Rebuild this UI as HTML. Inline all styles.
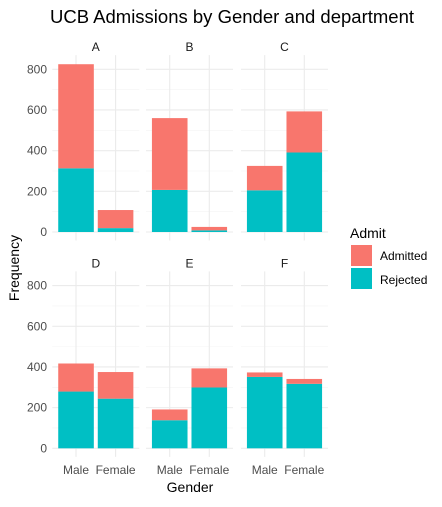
<!DOCTYPE html>
<html><head><meta charset="utf-8"><style>
body{margin:0;background:#fff;font-family:"Liberation Sans",sans-serif}
svg text{font-family:"Liberation Sans",sans-serif}
</style></head><body>
<svg id="chart" width="442" height="502" xmlns="http://www.w3.org/2000/svg">
<text x="232" y="23" font-size="18.5" text-anchor="middle" fill="#000">UCB Admissions by Gender and department</text>
<text transform="translate(19,268) rotate(-90)" font-size="14" text-anchor="middle" fill="#000">Frequency</text>
<text x="190" y="492" font-size="14" text-anchor="middle" fill="#000">Gender</text>
<g>
<text x="350" y="238" font-size="14" fill="#000">Admit</text>
<rect x="351" y="245" width="21" height="21" fill="#F8766D"/>
<text x="380" y="260" font-size="12" fill="#000">Admitted</text>
<rect x="351" y="268" width="21" height="21" fill="#00BFC4"/>
<text x="380" y="284" font-size="12" fill="#000">Rejected</text>
</g>
<g id="panels"></g>
</svg>
<script>
const depts = ["A","B","C","D","E","F"];
const genders = ["Male","Female"];
const rejected = [[313,19],[207,8],[205,391],[279,244],[138,299],[351,317]];
const admitted = [[512,89],[353,17],[120,202],[138,131],[53,94],[22,24]];
const yTicks = [0,200,400,600,800];
const yMinor = [100,300,500,700];

const NS="http://www.w3.org/2000/svg";
const g=document.getElementById("panels");
const panelX=[52.3,146,241];
const panelW=87;
const rowZero=[232,448.3];
const pxPerUnit=162.7/800;
function mk(tag,attrs,parent){const e=document.createElementNS(NS,tag);for(const k in attrs)e.setAttribute(k,attrs[k]);(parent||g).appendChild(e);return e;}
function yScale(v,row){return rowZero[row]-v*pxPerUnit;}
function xScale(i,col){return panelX[col]+panelW*(0.6+i)/2.2;}
depts.forEach((d,k)=>{
  const col=k%3,row=Math.floor(k/3);
  const top=yScale(870,row),bot=yScale(-42,row);
  const pg=mk("g",{});
  
  
  yMinor.forEach(v=>{const y=yScale(v,row);const l=mk("line",{x1:panelX[col],x2:panelX[col]+panelW,y1:y,y2:y,stroke:"#f4f4f4","stroke-width":0.6},pg);
    
    });
  yTicks.forEach(v=>{const y=yScale(v,row);const l=mk("line",{x1:panelX[col],x2:panelX[col]+panelW,y1:y,y2:y,stroke:"#ebebeb","stroke-width":1.1},pg);
    
    });
  genders.forEach((gn,i)=>{const x=xScale(i,col);const l=mk("line",{x1:x,x2:x,y1:top,y2:bot,stroke:"#ebebeb","stroke-width":1.1},pg);
    
    });
  const st=mk("text",{x:panelX[col]+panelW/2,y:top-4,"font-size":12,"text-anchor":"middle",fill:"#1a1a1a"},pg);
  st.textContent=d;
  
  
  genders.forEach((gn,i)=>{
    const cx=xScale(i,col),bw=panelW/2.2*0.9;
    const r=rejected[k][i],a=admitted[k][i];
    const rb=mk("rect",{x:cx-bw/2,y:yScale(r,row),width:bw,height:r*pxPerUnit,fill:"#00BFC4"},pg);
    
    
    const ab=mk("rect",{x:cx-bw/2,y:yScale(r+a,row),width:bw,height:a*pxPerUnit,fill:"#F8766D"},pg);
    
    
    if(row===1){const t=mk("text",{x:cx,y:474,"font-size":12,"text-anchor":"middle",fill:"#4d4d4d"},pg);t.textContent=gn;
      
      }
  });
  if(col===0){yTicks.forEach(v=>{const t=mk("text",{x:47,y:yScale(v,row)+4,"font-size":12,"text-anchor":"end",fill:"#4d4d4d"},pg);t.textContent=v;
    
    });}
});
</script>
</body></html>
